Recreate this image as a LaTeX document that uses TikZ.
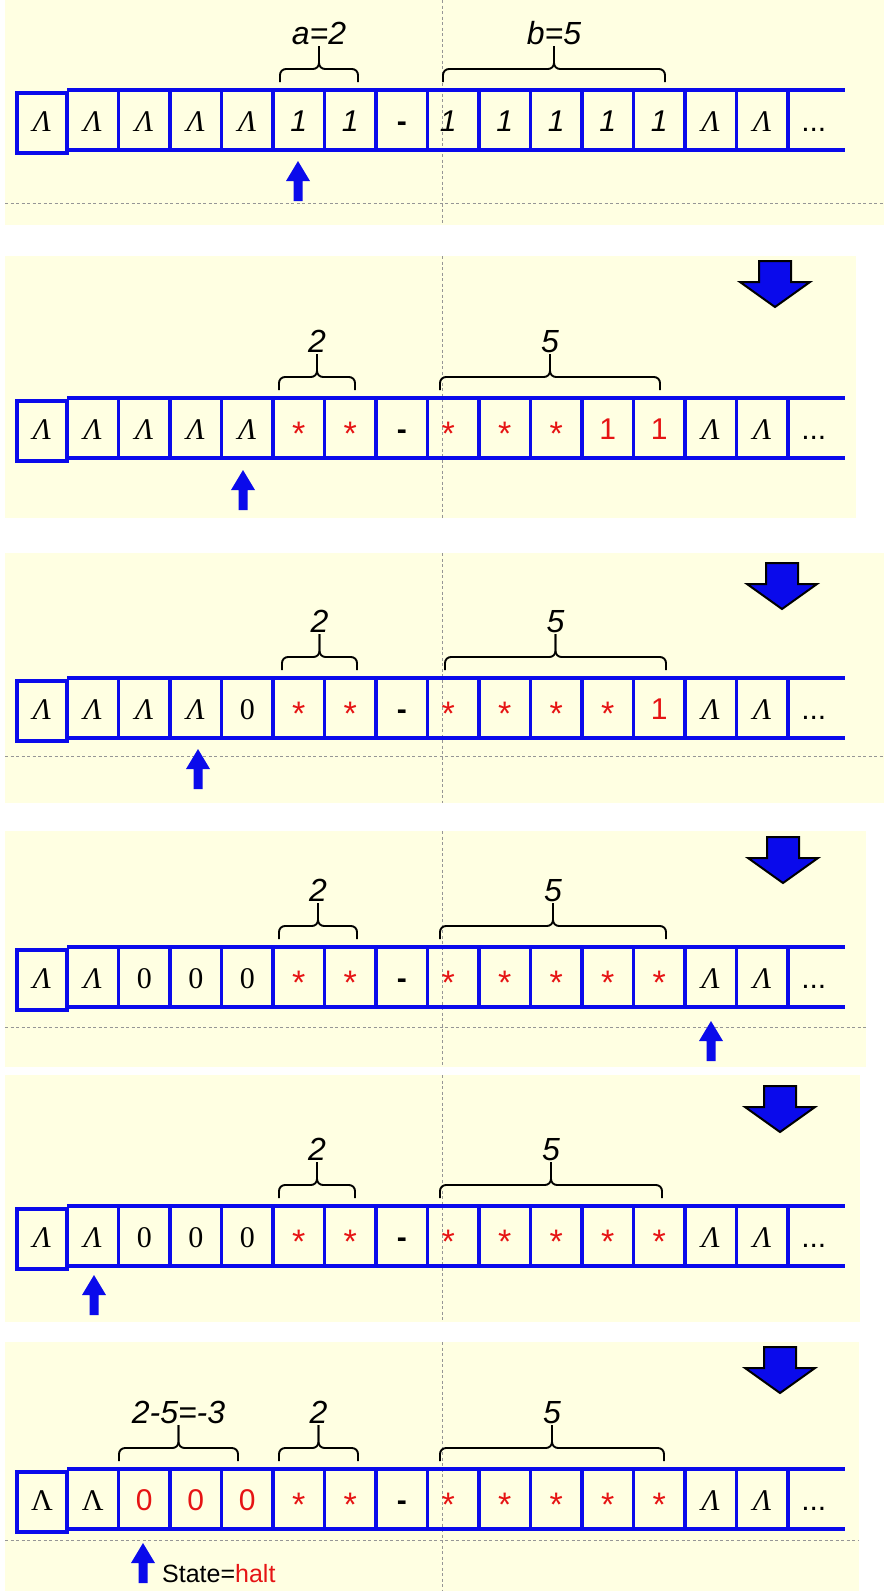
\documentclass[tikz,border=0pt]{standalone}
\usepackage{fontspec}
\setmainfont{Liberation Sans}
\newfontfamily\tserif{Liberation Serif}
\definecolor{cream}{RGB}{255,255,226}
\definecolor{tapeblue}{RGB}{10,10,235}
\definecolor{lred}{RGB}{230,20,20}
\definecolor{dgray}{RGB}{150,150,150}
\newcommand\celL{{\tserif\itshape Λ}}
\newcommand\celU{{\tserif Λ}}
\newcommand\celO{{\itshape 1}}
\newcommand\celD{{\bfseries -}}
\newcommand\celR{{\color{lred}1}}
\newcommand\celS{{\color{lred}\fontsize{34}{34}\selectfont\raisebox{-6pt}{*}}}
\newcommand\celZ{{\tserif 0}}
\newcommand\celY{{\color{lred}0}}
\newcommand\celE{...}
\tikzset{
 panel/.style={fill=cream, draw=none},
 tapeline/.style={draw=tapeblue, line width=3.5pt},
 sepdash/.style={draw=dgray, line width=0.7pt, dash pattern=on 3pt off 2.5pt},
 bracestyle/.style={draw=black, line width=1.9pt, rounded corners=6pt},
 bracelabel/.style={font=\fontsize{32}{32}\selectfont\itshape, anchor=base, inner sep=0pt},
 cellnode/.style={anchor=base, inner sep=0pt, font=\fontsize{30}{30}\selectfont},
 bigarr/.style={fill=tapeblue, draw=black, line width=2pt, line join=miter},
 headarr/.style={fill=tapeblue, draw=none},
}
\newcommand\drawtape[3]{%
  \draw[tapeline] (67,#1) -- (845,#1);
  \draw[tapeline] (67,{#1+60}) -- (845,{#1+60});
  \draw[tapeline] (17,{#1+3}) rectangle (67,{#1+63});
  \foreach \k in {2,...,15} \draw[tapeline] ({67+(\k-1)*51.5},#1) -- ++(0,60);
  \foreach \cc [count=\ci from 0] in {#3} {
    \ifnum\ci=0 \def\cx{42}\else \pgfmathsetmacro\cx{67+(\ci-0.5)*51.5}\fi
    \ifnum\ci=8 \pgfmathsetmacro\cx{\cx-5}\fi
    \node[cellnode] (#2c\ci) at (\cx,{#1+41}) {\csname cel\cc\endcsname};
  }
}
\newcommand\tbrace[5]{% x1 x2 tapetop label name
  \pgfmathsetmacro\xm{(#1+#2)/2}
  \draw[bracestyle] (#1,{#3-8}) -- (#1,{#3-21}) -- (\xm,{#3-21}) -- (\xm,{#3-44});
  \draw[bracestyle] (#2,{#3-8}) -- (#2,{#3-21}) -- (\xm,{#3-21}) -- (\xm,{#3-44});
  \node[bracelabel] (#5) at (\xm,{#3-46}) {#4};
}
\newcommand\bigarrow[2]{%
  \draw[bigarr] ({#1-16},#2) -- ({#1+16},#2) -- ({#1+16},{#2+21}) -- ({#1+35},{#2+21}) -- (#1,{#2+46}) -- ({#1-35},{#2+21}) -- ({#1-16},{#2+21}) -- cycle;
}
\newcommand\headarrow[2]{%
  \fill[headarr] ({#1-4.5},{#2+40}) -- ({#1+4.5},{#2+40}) -- ({#1+4.5},{#2+20}) -- ({#1+12},{#2+20}) -- (#1,#2) -- ({#1-12},{#2+20}) -- ({#1-4.5},{#2+20}) -- cycle;
}
\begin{document}
\begin{tikzpicture}[x=1pt,y=-1pt]
\useasboundingbox (0,0) rectangle (884,1591);
% panels
\fill[panel] (5,0) rectangle (884,225);
\fill[panel] (5,256) rectangle (856,518);
\fill[panel] (5,553) rectangle (884,803);
\fill[panel] (5,831) rectangle (866,1067);
\fill[panel] (5,1075) rectangle (860,1322);
\fill[panel] (5,1342) rectangle (859,1591);
% vertical dashed
\draw[sepdash] (442,0) -- (442,225);
\draw[sepdash] (442,256) -- (442,518);
\draw[sepdash] (442,553) -- (442,803);
\draw[sepdash] (442,831) -- (442,1067);
\draw[sepdash] (442,1075) -- (442,1322);
\draw[sepdash] (442,1342) -- (442,1591);
% horizontal dashed
\draw[sepdash] (5,203) -- (884,203);
\draw[sepdash] (5,756) -- (884,756);
\draw[sepdash] (5,1027) -- (866,1027);
\draw[sepdash] (5,1540) -- (859,1540);
% panel 1
\drawtape{90}{pa}{L,L,L,L,L,O,O,D,O,O,O,O,O,L,L,E}
\tbrace{280}{358}{90}{a=2}{pab1}
\tbrace{443}{665}{90}{b=5}{pab2}
\headarrow{298}{161}
% panel 2
\bigarrow{775}{261}
\drawtape{398}{pb}{L,L,L,L,L,S,S,D,S,S,S,R,R,L,L,E}
\tbrace{279}{355}{398}{2}{pbb1}
\tbrace{440}{660}{398}{5}{pbb2}
\headarrow{243}{470}
% panel 3
\bigarrow{782}{563}
\drawtape{678}{pc}{L,L,L,L,Z,S,S,D,S,S,S,S,R,L,L,E}
\tbrace{282}{357}{678}{2}{pcb1}
\tbrace{445}{666}{678}{5}{pcb2}
\headarrow{198}{749}
% panel 4
\bigarrow{783}{837}
\drawtape{947}{pd}{L,L,Z,Z,Z,S,S,D,S,S,S,S,S,L,L,E}
\tbrace{279}{357}{947}{2}{pdb1}
\tbrace{440}{666}{947}{5}{pdb2}
\headarrow{711}{1021}
% panel 5
\bigarrow{780}{1086}
\drawtape{1206}{pe}{L,L,Z,Z,Z,S,S,D,S,S,S,S,S,L,L,E}
\tbrace{279}{355}{1206}{2}{peb1}
\tbrace{440}{662}{1206}{5}{peb2}
\headarrow{94}{1275}
% panel 6
\bigarrow{780}{1347}
\drawtape{1469}{pf}{U,U,Y,Y,Y,S,S,D,S,S,S,S,S,L,L,E}
\tbrace{119}{238}{1469}{2-5=-3}{pfb0}
\tbrace{279}{358}{1469}{2}{pfb1}
\tbrace{440}{664}{1469}{5}{pfb2}
\headarrow{143}{1543}
\node[anchor=west, inner sep=0pt, font=\fontsize{25}{25}\selectfont] (state) at (162,1574) {State=\textcolor{lred}{halt}};
\end{tikzpicture}
\end{document}
